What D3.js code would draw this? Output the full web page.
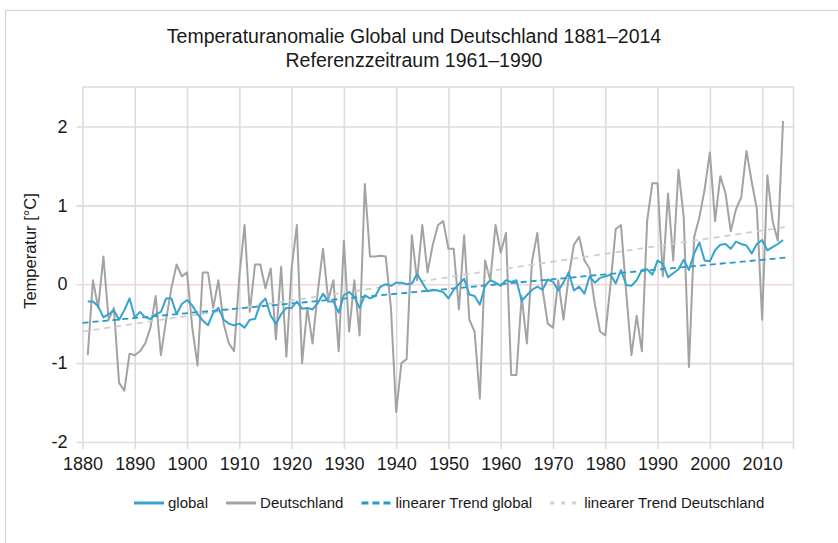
<!DOCTYPE html>
<html>
<head>
<meta charset="utf-8">
<script src="https://cdn.jsdelivr.net/npm/d3@7"></script>
<style>
  html, body { margin: 0; padding: 0; background: #fff; }
  svg { display: block; }
  text { font-family: "Liberation Sans", Arial, Helvetica, sans-serif; fill: #1a1a1a; }
</style>
</head>
<body>
<svg id="chart" width="838" height="543"></svg>
<script>
// ---------------- data ----------------
const titleLines = ["Temperaturanomalie Global und Deutschland 1881–2014", "Referenzzeitraum 1961–1990"];
const yAxisTitle = "Temperatur [°C]";
const years = d3.range(1881, 2015); // 1881 ... 2014 (134 years)

// Global temperature anomaly (°C, ref. 1961–1990)
const globalValues = [
  -0.22,-0.22,-0.28,-0.42,-0.38,-0.33,-0.45,-0.33,-0.18,-0.42,
  -0.35,-0.42,-0.44,-0.38,-0.35,-0.18,-0.18,-0.38,-0.25,-0.20,
  -0.27,-0.38,-0.46,-0.52,-0.36,-0.30,-0.45,-0.50,-0.52,-0.50,
  -0.55,-0.45,-0.44,-0.25,-0.18,-0.40,-0.50,-0.38,-0.30,-0.30,
  -0.22,-0.31,-0.30,-0.32,-0.24,-0.12,-0.22,-0.22,-0.36,-0.14,
  -0.10,-0.16,-0.30,-0.14,-0.18,-0.15,-0.03, 0.00,-0.02, 0.02,
   0.02, 0.00, 0.01, 0.13, 0.02,-0.09,-0.07,-0.08,-0.10,-0.18,
  -0.07, 0.00, 0.07,-0.13,-0.15,-0.26,-0.02, 0.05, 0.02,-0.02,
   0.05, 0.03, 0.05,-0.21,-0.14,-0.07,-0.03,-0.07, 0.06, 0.03,
  -0.08, 0.02, 0.15,-0.08,-0.03,-0.12, 0.10, 0.02, 0.08, 0.10,
   0.12, 0.01, 0.18,-0.01,-0.02, 0.05, 0.18, 0.19, 0.12, 0.30,
   0.26, 0.09, 0.14, 0.19, 0.31, 0.18, 0.39, 0.53, 0.30, 0.29,
   0.43, 0.50, 0.51, 0.45, 0.54, 0.51, 0.49, 0.39, 0.51, 0.56,
   0.43, 0.47, 0.51, 0.56
];

// Germany temperature anomaly (°C, ref. 1961–1990)
const germanyValues = [
  -0.90, 0.05,-0.30, 0.35,-0.45,-0.30,-1.25,-1.35,-0.88,-0.90,
  -0.85,-0.75,-0.55,-0.15,-0.90,-0.45,-0.05, 0.25, 0.10, 0.15,
  -0.55,-1.03, 0.15, 0.15,-0.30, 0.05,-0.50,-0.75,-0.85, 0.10,
   0.75,-0.35, 0.25, 0.25,-0.05, 0.20,-0.70, 0.22,-0.92, 0.20,
   0.75,-1.00,-0.30,-0.75,-0.10, 0.45,-0.20, 0.05,-0.85, 0.55,
  -0.60, 0.05,-0.65, 1.27, 0.35, 0.35, 0.36, 0.35,-0.30,-1.62,
  -1.00,-0.95, 0.62, 0.05, 0.75, 0.15, 0.50, 0.75, 0.80, 0.45,
   0.45,-0.32, 0.62,-0.45,-0.60,-1.45, 0.30, 0.05, 0.75, 0.40,
   0.65,-1.15,-1.15,-0.15,-0.75, 0.30, 0.65,-0.07,-0.50,-0.55,
   0.05,-0.45, 0.10, 0.50, 0.60, 0.30, 0.20,-0.25,-0.60,-0.65,
   0.00, 0.70, 0.75,-0.10,-0.90,-0.40,-0.85, 0.80, 1.28, 1.28,
   0.10, 1.15, 0.30, 1.45, 0.85,-1.05, 0.60, 0.85, 1.20, 1.67,
   0.80, 1.37, 1.15, 0.67, 0.95, 1.10, 1.69, 1.30, 0.95,-0.45,
   1.38, 0.80, 0.55, 2.07
];

// Linear trend lines: [start, end] years and values
const trendYears = [1880, 2015];
const trendGlobal = [-0.49, 0.34];
const trendGermany = [-0.60, 0.73];

const xTicks = d3.range(1880, 2011, 10);
const yTicks = [-2, -1, 0, 1, 2];
const xDomain = [1880, 2016];
const yDomain = [-2, 2.5];

const legendLabels = ["global", "Deutschland", "linearer Trend global", "linearer Trend Deutschland"];

// ---------------- layout ----------------
const W = 838, H = 543;
const plot = { left: 82.5, right: 793.5, top: 87, bottom: 442 };
const colGlobal = "#36a4cf";
const colGermany = "#a3a3a3";
const colTrendGlobal = "#2a98c4";
const colTrendGermany = "#cfcfcf";
const gridCol = "#dcdcdc";

const svg = d3.select("#chart");

svg.append("rect").attr("x", 0).attr("y", 0).attr("width", W).attr("height", H).attr("fill", "#fff");
// outer frame (only top/left visible in the reference)
svg.append("rect").attr("x", 5.5).attr("y", 10.5).attr("width", W + 20).attr("height", H + 20)
  .attr("fill", "none").attr("stroke", "#d6d6d6").attr("stroke-width", 1.2);

const x = d3.scaleLinear().domain(xDomain).range([plot.left, plot.right]);
const y = d3.scaleLinear().domain(yDomain).range([plot.bottom, plot.top]);

// Title
const title = svg.append("text").attr("text-anchor", "middle").style("font-size", "19.5px");
title.append("tspan").attr("x", 414).attr("y", 43).text(titleLines[0]);
title.append("tspan").attr("x", 414).attr("y", 67).text(titleLines[1]);

// Grid via axes
const gx = svg.append("g").attr("transform", `translate(0,${plot.bottom})`)
  .call(d3.axisBottom(x).tickValues(xTicks).tickFormat(d3.format("d"))
    .tickSize(-(plot.bottom - plot.top)).tickPadding(10));
gx.select(".domain").remove();
gx.selectAll(".tick line").attr("stroke", gridCol).attr("stroke-width", 1.6).attr("y1", 7);
gx.selectAll(".tick text").style("font-size", "18px").attr("fill", "#1a1a1a").attr("dy", "1.0em");

const hyphenFormat = d => (d < 0 ? "-" : "") + Math.abs(d);
const gy = svg.append("g").attr("transform", `translate(${plot.left},0)`)
  .call(d3.axisLeft(y).tickValues(yTicks).tickFormat(hyphenFormat)
    .tickSize(-(plot.right - plot.left)).tickPadding(15));
gy.select(".domain").remove();
gy.selectAll(".tick line").attr("stroke", d => d === 0 ? "#efd8d8" : gridCol)
  .attr("stroke-width", 1.6).attr("x1", -6);
gy.selectAll(".tick text").style("font-size", "18px").attr("fill", "#1a1a1a");

// plot border (top and right)
svg.append("path")
  .attr("d", `M${plot.left},${plot.top}H${plot.right}V${plot.bottom}`)
  .attr("fill", "none").attr("stroke", gridCol).attr("stroke-width", 1.6);
svg.append("line").attr("x1", plot.right).attr("x2", plot.right).attr("y1", plot.bottom).attr("y2", plot.bottom + 7)
  .attr("stroke", gridCol).attr("stroke-width", 1.6);

// Y axis title
svg.append("text")
  .attr("transform", `translate(30,251) rotate(-90)`)
  .attr("text-anchor", "middle").attr("dy", "0.35em")
  .style("font-size", "16.5px").text(yAxisTitle);

// Lines
const line = d3.line().x(d => x(d[0])).y(d => y(d[1]));
const germanyData = years.map((yr, i) => [yr, germanyValues[i]]);
const globalData = years.map((yr, i) => [yr, globalValues[i]]);

svg.append("path").datum(germanyData).attr("d", line)
  .attr("fill", "none").attr("stroke", colGermany).attr("stroke-width", 2).attr("stroke-linejoin", "round");

svg.append("path").datum(trendYears.map((yr, i) => [yr, trendGermany[i]])).attr("d", line)
  .attr("fill", "none").attr("stroke", colTrendGermany).attr("stroke-width", 1.8).attr("stroke-dasharray", "6,5");

svg.append("path").datum(trendYears.map((yr, i) => [yr, trendGlobal[i]])).attr("d", line)
  .attr("fill", "none").attr("stroke", colTrendGlobal).attr("stroke-width", 1.8).attr("stroke-dasharray", "6,4");

svg.append("path").datum(globalData).attr("d", line)
  .attr("fill", "none").attr("stroke", colGlobal).attr("stroke-width", 2).attr("stroke-linejoin", "round");

// Legend
const legendStyles = [
  { color: colGlobal, dash: null, width: 3 },
  { color: colGermany, dash: null, width: 3 },
  { color: colTrendGlobal, dash: "7,4", width: 3 },
  { color: colTrendGermany, dash: "4,7", width: 3 }
];
const legend = svg.append("g");
let lx = 134;
const ly = 503;
legendLabels.forEach((lab, i) => {
  const st = legendStyles[i];
  legend.append("line").attr("x1", lx).attr("x2", lx + 30).attr("y1", ly).attr("y2", ly)
    .attr("stroke", st.color).attr("stroke-width", st.width)
    .attr("stroke-dasharray", st.dash);
  const t = legend.append("text").attr("x", lx + 34).attr("y", ly).attr("dy", "0.35em")
    .style("font-size", "15px").text(lab);
  lx += 34 + t.node().getComputedTextLength() + 18;
});
</script>
</body>
</html>
